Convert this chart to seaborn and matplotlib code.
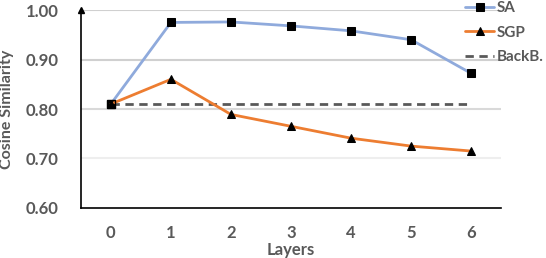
import matplotlib
matplotlib.use("Agg")
import matplotlib.pyplot as plt
import seaborn as sns

layers = [0, 1, 2, 3, 4, 5, 6]
sa = [0.81, 0.975, 0.976, 0.968, 0.958, 0.940, 0.872]
sgp = [0.81, 0.860, 0.789, 0.765, 0.741, 0.725, 0.715]
backb = [0.81, 0.81, 0.81, 0.81, 0.81, 0.81, 0.81]
yticks = [0.60, 0.70, 0.80, 0.90, 1.00]

sns.set_style("white")
plt.rcParams['font.family'] = ['Lato', 'DejaVu Sans']

fig = plt.figure(figsize=(5.46, 2.58), dpi=100)
ax = fig.add_axes([0.148, 0.194, 0.770, 0.767])

grey = "#595959"
for y, c in zip(yticks[1:], ["#eeeeee", "#d9d9d9", "#d0d0d0", "#d0d0d0"]):
    ax.axhline(y, color=c, lw=1.5, zorder=0)

sns.lineplot(x=layers, y=sa, ax=ax, color="#8faadc", lw=2, marker="s",
             markersize=6, markerfacecolor="black", markeredgecolor="black",
             label="SA", zorder=3)
sns.lineplot(x=layers, y=sgp, ax=ax, color="#ed7d31", lw=2, marker="^",
             markersize=6, markerfacecolor="black", markeredgecolor="black",
             label="SGP", zorder=3)
sns.lineplot(x=layers, y=backb, ax=ax, color=grey, lw=2, linestyle=(0, (3, 2)),
             label="BackB.", zorder=2)
ax.plot([layers[0]], [backb[0]], marker="s", markersize=6, markerfacecolor="none",
        markeredgecolor="black", zorder=4)

ax.set_xlim(-0.5, 6.5)
ax.set_ylim(0.60, 1.00)
ax.set_xticks(layers)
ax.set_yticks(yticks)
ax.set_yticklabels([f"{v:.2f}" for v in yticks])
ax.tick_params(axis="both", length=0, labelsize=12, labelcolor=grey)
ax.tick_params(axis="x", pad=12)
ax.tick_params(axis="y", pad=16)
for lab in ax.get_xticklabels() + ax.get_yticklabels():
    lab.set_fontweight("bold")

for s in ["top", "right"]:
    ax.spines[s].set_visible(False)
for s in ["left", "bottom"]:
    ax.spines[s].set_color("black")
    ax.spines[s].set_linewidth(1.2)
ax.plot([-0.5], [1.0], marker="^", color="black", markersize=5, clip_on=False, zorder=5)

ax.set_xlabel("Layers", fontsize=12, fontweight="bold", color=grey, labelpad=1)
ax.set_ylabel("Cosine Similarity", fontsize=11.5, fontweight="bold", color=grey, labelpad=8)

leg = ax.legend(loc="upper left", bbox_to_anchor=(0.9, 1.075), frameon=False,
                prop={"family": "Lato", "weight": "bold", "size": 11},
                handlelength=1.9, handletextpad=0.15, labelspacing=0.68,
                borderaxespad=0)
for t in leg.get_texts():
    t.set_color(grey)

fig.savefig("out.png", dpi=100)
